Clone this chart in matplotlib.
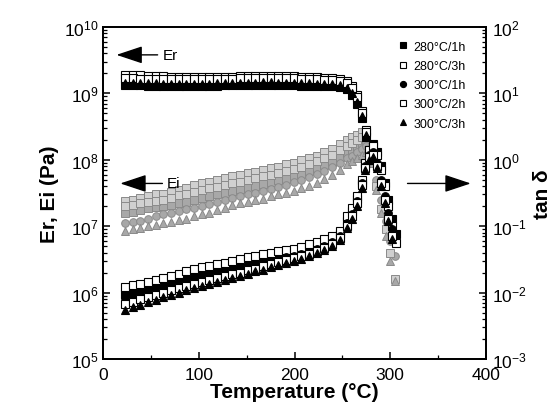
import numpy as np
import matplotlib
matplotlib.use("Agg")
import matplotlib.pyplot as plt
from matplotlib.ticker import LogLocator, MultipleLocator, NullFormatter

plt.rcParams['font.family'] = ['Liberation Sans', 'DejaVu Sans']
plt.rcParams['mathtext.fontset'] = 'custom'
plt.rcParams['mathtext.rm'] = 'Liberation Sans'

# --- data ---
labels = ["280°C/1h", "280°C/3h", "300°C/1h", "300°C/2h", "300°C/3h"]

temp_base = [23, 31, 39, 47, 55, 63, 71, 79, 87, 95, 103, 111, 119, 127, 135,
             143, 151, 159, 167, 175, 183, 191, 199, 207, 215, 223, 231, 239, 247]
temp_er = temp_base + [255, 260, 265, 270, 275, 280]
temp_ei = temp_base + [255, 260, 265, 270, 275, 280, 285, 290, 295, 300, 305]
temp_tan = temp_base + [255, 260, 265, 270, 274, 278, 282, 286, 290, 294, 298, 302, 306]

nan = np.nan

# Er in GPa
er_280_1h = [1.35, 1.33, 1.32, 1.31, 1.30, 1.30, 1.29, 1.30, 1.31, 1.30, 1.29, 1.30, 1.31, 1.32, 1.32,
             1.33, 1.34, 1.33, 1.34, 1.34, 1.33, 1.33, 1.32, 1.31, 1.30, 1.30, 1.29, 1.28, 1.25,
             1.15, 0.95, 0.70, 0.42, 0.22, 0.12]
er_280_3h = [1.90, 1.88, 1.86, 1.84, 1.82, 1.80, 1.79, 1.78, 1.77, 1.76, 1.75, 1.75, 1.76, 1.77, 1.79,
             1.80, 1.82, 1.83, 1.84, 1.84, 1.83, 1.82, 1.80, 1.78, 1.76, 1.74, 1.72, 1.70, 1.66,
             1.55, 1.30, 0.95, 0.55, 0.28, 0.14]
er_300_1h = [1.58, 1.56, 1.55, 1.54, 1.53, 1.52, 1.51, 1.51, 1.50, 1.50, 1.50, 1.51, 1.52, 1.53, 1.54,
             1.55, 1.56, 1.57, 1.58, 1.58, 1.57, 1.56, 1.55, 1.54, 1.53, 1.52, 1.50, 1.48, 1.45,
             1.35, 1.10, 0.80, 0.48, 0.25, 0.13]
er_300_2h = [1.70, 1.68, 1.67, 1.66, 1.65, 1.64, 1.63, 1.63, 1.62, 1.62, 1.62, 1.63, 1.64, 1.65, 1.66,
             1.68, 1.69, 1.70, 1.71, 1.71, 1.70, 1.69, 1.68, 1.66, 1.64, 1.63, 1.61, 1.59, 1.55,
             1.45, 1.20, 0.88, 0.50, 0.26, 0.13]
er_300_3h = [1.45, 1.44, 1.43, 1.42, 1.41, 1.40, 1.40, 1.39, 1.39, 1.39, 1.39, 1.40, 1.41, 1.42, 1.43,
             1.44, 1.45, 1.45, 1.46, 1.46, 1.45, 1.44, 1.43, 1.42, 1.41, 1.40, 1.38, 1.36, 1.33,
             1.22, 1.00, 0.75, 0.45, 0.24, 0.12]

# Ei in units of 1e7 Pa
ei_280_1h = [1.6, 1.65, 1.75, 1.85, 1.95, 2.0, 2.1, 2.2, 2.35, 2.5, 2.7, 2.85, 3.0, 3.2, 3.4,
             3.6, 3.8, 4.0, 4.3, 4.6, 4.9, 5.2, 5.6, 6.1, 6.7, 7.4, 8.2, 9.2, 11,
             12.5, 14, 15.5, 17, 19, nan, nan, nan, nan, nan, nan]
ei_280_3h = [2.4, 2.5, 2.7, 2.8, 3.0, 3.1, 3.3, 3.5, 3.7, 4.1, 4.5, 4.7, 5.0, 5.3, 5.6,
             5.9, 6.3, 6.6, 7.0, 7.4, 7.9, 8.5, 9.0, 9.8, 10.5, 11.5, 13, 14.5, 17,
             20, 22, 24, 26, 28, nan, nan, nan, nan, nan, nan]
ei_300_1h = [1.1, 1.15, 1.2, 1.3, 1.4, 1.5, 1.6, 1.7, 1.8, 1.9, 2.0, 2.15, 2.3, 2.5, 2.7,
             2.85, 3.0, 3.2, 3.4, 3.6, 3.9, 4.2, 4.6, 5.0, 5.5, 6.1, 6.8, 7.7, 9.0,
             10.5, 11.5, 13, 14.5, 16, 11, 5, 2.5, 1.2, 0.6, 0.35]
ei_300_2h = [2.0, 2.1, 2.2, 2.3, 2.4, 2.5, 2.7, 2.9, 3.1, 3.3, 3.5, 3.7, 3.9, 4.1, 4.4,
             4.7, 5.0, 5.3, 5.6, 6.0, 6.4, 6.8, 7.3, 7.9, 8.6, 9.5, 10.5, 12, 14,
             16, 18, 20, 22, 24, 10, 4, 1.8, 0.9, 0.4, 0.16]
ei_300_3h = [0.85, 0.9, 0.95, 1.0, 1.05, 1.1, 1.15, 1.25, 1.3, 1.4, 1.5, 1.6, 1.75, 1.9, 2.05,
             2.2, 2.3, 2.45, 2.6, 2.8, 3.0, 3.2, 3.4, 3.7, 4.0, 4.5, 5.1, 5.9, 7.0,
             8.5, 9.5, 10.5, 12, 13, 9, 3.5, 1.6, 0.7, 0.3, 0.15]

# tan delta
tan_280_1h = [0.0095, 0.0100, 0.0106, 0.0114, 0.0122, 0.0130, 0.0140, 0.0150, 0.0165, 0.018, 0.019, 0.020,
              0.021, 0.023, 0.024, 0.026, 0.027, 0.029, 0.031, 0.033, 0.035, 0.037, 0.039, 0.041, 0.045,
              0.049, 0.055, 0.063, 0.075,
              0.12, 0.17, 0.26, 0.45, 0.85, 1.4, 1.7, 1.3, 0.8, 0.45, 0.25, 0.13, 0.075]
tan_280_3h = [0.0120, 0.0128, 0.0135, 0.0145, 0.0155, 0.0165, 0.0178, 0.019, 0.021, 0.023, 0.024, 0.025,
              0.027, 0.028, 0.030, 0.032, 0.034, 0.036, 0.038, 0.040, 0.042, 0.044, 0.046, 0.049, 0.053,
              0.058, 0.064, 0.072, 0.085,
              0.14, 0.19, 0.28, 0.5, 0.9, 1.4, 1.6, 1.2, 0.7, 0.4, 0.2, 0.1, 0.055]
tan_300_1h = [0.0082, 0.0088, 0.0094, 0.0100, 0.0107, 0.0115, 0.0123, 0.0132, 0.0142, 0.0155, 0.0165, 0.0175,
              0.0185, 0.020, 0.021, 0.023, 0.024, 0.026, 0.028, 0.030, 0.032, 0.034, 0.036, 0.038, 0.041,
              0.045, 0.050, 0.058, 0.070,
              0.11, 0.15, 0.24, 0.45, 0.8, 1.2, 1.3, 0.9, 0.5, 0.28, 0.16, 0.09, nan]
tan_300_2h = [0.0068, 0.0073, 0.0079, 0.0085, 0.0092, 0.0100, 0.0108, 0.0116, 0.0125, 0.0135, 0.0145, 0.0155,
              0.0165, 0.0178, 0.019, 0.020, 0.022, 0.023, 0.025, 0.027, 0.029, 0.031, 0.033, 0.035, 0.038,
              0.042, 0.047, 0.054, 0.066,
              0.10, 0.14, 0.22, 0.42, 0.75, 1.1, 1.2, 0.8, 0.45, 0.25, 0.13, 0.07, nan]
tan_300_3h = [0.0055, 0.0060, 0.0066, 0.0072, 0.0078, 0.0085, 0.0093, 0.0100, 0.0108, 0.0116, 0.0125, 0.0134,
              0.0144, 0.0155, 0.0167, 0.018, 0.019, 0.021, 0.022, 0.024, 0.026, 0.028, 0.030, 0.032, 0.035,
              0.039, 0.044, 0.051, 0.062,
              0.095, 0.13, 0.20, 0.38, 0.7, 1.0, 1.1, 0.75, 0.4, 0.22, 0.12, 0.065, nan]

er_all = [er_280_1h, er_280_3h, er_300_1h, er_300_2h, er_300_3h]
ei_all = [ei_280_1h, ei_280_3h, ei_300_1h, ei_300_2h, ei_300_3h]
tan_all = [tan_280_1h, tan_280_3h, tan_300_1h, tan_300_2h, tan_300_3h]

# marker style per series: (marker, filled?)
styles = [("s", True), ("s", False), ("o", True), ("s", False), ("^", True)]

fig = plt.figure(figsize=(5.57, 4.10), dpi=100)
ax = fig.add_axes([0.185, 0.122, 0.6876, 0.8098])
ax2 = ax.twinx()

ms = 5.5
handles = []
for i in range(5):
    mk, filled = styles[i]
    # Ei in gray
    ax.plot(temp_ei, np.array(ei_all[i]) * 1e7, ls="none", marker=mk, ms=ms,
            mfc="#a8a8a8" if filled else "#d0d0d0", mec="#8a8a8a", mew=0.7)
for i in range(5):
    mk, filled = styles[i]
    h, = ax.plot(temp_er, np.array(er_all[i]) * 1e9, ls="none", marker=mk, ms=ms,
                 mfc="black" if filled else "white", mec="black", mew=0.8, label=labels[i])
    handles.append(h)
    ax2.plot(temp_tan, tan_all[i], ls="none", marker=mk, ms=ms,
             mfc="black" if filled else "white", mec="black", mew=0.8)

ax.set_xlim(0, 400)
ax.set_yscale("log")
ax.set_ylim(1e5, 1e10)
ax2.set_yscale("log")
ax2.set_ylim(1e-3, 1e2)

ax.xaxis.set_major_locator(MultipleLocator(100))
ax.xaxis.set_minor_locator(MultipleLocator(50))
for a in (ax, ax2):
    a.yaxis.set_major_locator(LogLocator(base=10, numticks=10))
    a.yaxis.set_minor_locator(LogLocator(base=10, subs=np.arange(2, 10), numticks=10))
    a.yaxis.set_minor_formatter(NullFormatter())
    for s in a.spines.values():
        s.set_linewidth(1.3)

ax.tick_params(axis="both", which="major", direction="in", length=5, width=1.1, labelsize=12.5)
ax.tick_params(axis="both", which="minor", direction="in", length=3, width=0.9)
ax.tick_params(axis="y", right=False, pad=3)
ax.tick_params(axis="x", top=False, pad=6)
ax2.tick_params(axis="y", which="major", direction="in", length=5, width=1.1, labelsize=12.5, pad=4)
ax2.tick_params(axis="y", which="minor", direction="in", length=3, width=0.9)

ax.set_xlabel("Temperature (°C)", fontsize=15, fontweight="bold", labelpad=0)
ax.set_ylabel("Er, Ei (Pa)", fontsize=15, fontweight="bold", labelpad=4)
ax2.set_ylabel("tan δ", fontsize=15, fontweight="bold", labelpad=5)

# arrows pointing to the axes
arrow = dict(arrowstyle="-|>,head_length=0.9,head_width=0.3", color="black", lw=1.0,
             mutation_scale=18, shrinkA=0, shrinkB=0)
ax.annotate("", xy=(14, 3.8e9), xytext=(57, 3.8e9), arrowprops=arrow)
ax.text(62, 3.8e9, "Er", fontsize=11, va="center", ha="left")
ax.annotate("", xy=(18, 4.4e7), xytext=(62, 4.4e7), arrowprops=arrow)
ax.text(67, 4.4e7, "Ei", fontsize=11, va="center", ha="left")
ax.annotate("", xy=(384, 4.4e7), xytext=(318, 4.4e7), arrowprops=arrow)

leg = ax.legend(handles=handles, loc="upper right", bbox_to_anchor=(0.97, 0.985), frameon=False,
                fontsize=9, handlelength=0.6, handletextpad=0.5, labelspacing=0.58,
                markerscale=0.8, borderaxespad=0.3)

fig.savefig("out.png", dpi=100)
